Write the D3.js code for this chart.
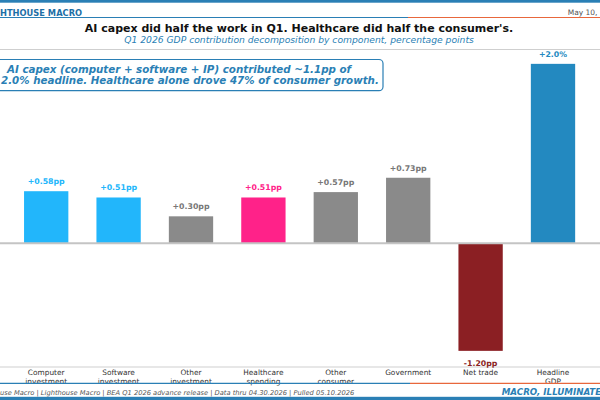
<!DOCTYPE html>
<html>
<head>
<meta charset="utf-8">
<script src="https://cdn.jsdelivr.net/npm/d3@7"></script>
<style>
  body { margin: 0; background: #fff; }
  svg { display: block; font-family: "DejaVu Sans", sans-serif; }
</style>
</head>
<body>
<svg id="chart"></svg>
<script>
  // values
  const categories = [
    "Computer\ninvestment",
    "Software\ninvestment",
    "Other\ninvestment",
    "Healthcare\nspending",
    "Other\nconsumer",
    "Government",
    "Net trade",
    "Headline\nGDP",
  ];
  const contributions = [0.58, 0.51, 0.3, 0.51, 0.57, 0.73, -1.2, 2.0];
  const valueLabels = ["+0.58pp", "+0.51pp", "+0.30pp", "+0.51pp", "+0.57pp", "+0.73pp", "-1.20pp", "+2.0%"];
  const groups = ["ai", "ai", "other", "health", "other", "other", "trade", "headline"];
  const yDomain = [-1.38, 2.16];

  const W = 600;
  const H = 400;
  const blue = "#2a7fb5";
  const orange = "#e8673c";

  const barColor = d3
    .scaleOrdinal()
    .domain(["ai", "other", "health", "trade", "headline"])
    .range(["#22b6fb", "#8a8a8a", "#ff2289", "#8b1f23", "#2389c0"]);
  const labelColor = d3
    .scaleOrdinal()
    .domain(["ai", "other", "health", "trade", "headline"])
    .range(["#22b6fb", "#777777", "#ff2289", "#8b1f23", "#2389c0"]);

  const data = categories.map((c, i) => ({
    cat: c,
    value: contributions[i],
    label: valueLabels[i],
    group: groups[i],
  }));

  const svg = d3.select("#chart").attr("width", W).attr("height", H);

  const x = d3
    .scaleBand()
    .domain(categories)
    .range([10, 589.2])
    .paddingInner(0.388)
    .paddingOuter(0.194);
  const y = d3.scaleLinear().domain(yDomain).range([367, 49.5]);

  // header strip
  svg.append("rect").attr("x", 0).attr("y", 0).attr("width", W).attr("height", 2.7).attr("fill", blue);
  svg.append("line").attr("x1", 0).attr("x2", 408).attr("y1", 17.5).attr("y2", 17.5)
    .attr("stroke", blue).attr("stroke-width", 1.2);
  svg.append("line").attr("x1", 408).attr("x2", W).attr("y1", 17.5).attr("y2", 17.5)
    .attr("stroke", orange).attr("stroke-width", 1.2);
  svg.append("text").attr("x", 0).attr("y", 16.3)
    .attr("font-size", "8.3px").attr("font-weight", "bold").attr("fill", "#1d6fa6")
    .text("HTHOUSE MACRO");
  svg.append("text").attr("x", 567.7).attr("y", 15.4)
    .attr("font-size", "7.5px").attr("fill", "#555")
    .text("May 10, 2026");

  // titles
  svg.append("text").attr("x", 299).attr("y", 32).attr("text-anchor", "middle")
    .attr("font-size", "11px").attr("font-weight", "bold").attr("fill", "#111")
    .text("AI capex did half the work in Q1. Healthcare did half the consumer's.");
  svg.append("text").attr("x", 299).attr("y", 43.3).attr("text-anchor", "middle")
    .attr("font-size", "9.2px").attr("font-style", "italic").attr("fill", blue)
    .text("Q1 2026 GDP contribution decomposition by component, percentage points");

  // plot frame lines
  svg.append("line").attr("x1", 0).attr("x2", W).attr("y1", y.range()[1]).attr("y2", y.range()[1])
    .attr("stroke", "#cfcfcf").attr("stroke-width", 1);
  svg.append("line").attr("x1", 0).attr("x2", W).attr("y1", y.range()[0]).attr("y2", y.range()[0])
    .attr("stroke", "#cfcfcf").attr("stroke-width", 1);

  // bars
  svg.selectAll(".bar")
    .data(data)
    .enter()
    .append("rect")
    .attr("class", "bar")
    .attr("x", (d) => x(d.cat))
    .attr("width", x.bandwidth())
    .attr("y", (d) => y(Math.max(0, d.value)))
    .attr("height", (d) => Math.abs(y(d.value) - y(0)))
    .attr("fill", (d) => barColor(d.group));

  svg.append("line").attr("x1", 0).attr("x2", W).attr("y1", y(0)).attr("y2", y(0))
    .attr("stroke", "#c4c4c4").attr("stroke-width", 1.8);

  svg.selectAll(".val")
    .data(data)
    .enter()
    .append("text")
    .attr("class", "val")
    .attr("x", (d) => x(d.cat) + x.bandwidth() / 2)
    .attr("y", (d) => (d.value >= 0 ? y(d.value) - 7.2 : y(d.value) + 15))
    .attr("text-anchor", "middle")
    .attr("font-size", "7.8px")
    .attr("font-weight", "bold")
    .attr("fill", (d) => labelColor(d.group))
    .text((d) => d.label);

  // category labels
  const ticks = svg.selectAll(".cat")
    .data(data)
    .enter()
    .append("text")
    .attr("class", "cat")
    .attr("text-anchor", "middle")
    .attr("font-size", "7.4px")
    .attr("fill", "#333");
  ticks.selectAll("tspan")
    .data((d) => d.cat.split("\n").map((t) => ({ t, cx: x(d.cat) + x.bandwidth() / 2 })))
    .enter()
    .append("tspan")
    .attr("x", (d) => d.cx)
    .attr("y", (d, i) => 375.4 + i * 9)
    .text((d) => d.t);

  // annotation box
  svg.append("rect").attr("x", -10).attr("y", 59.5).attr("width", 393).attr("height", 31.2)
    .attr("rx", 4).attr("fill", "#fff").attr("stroke", blue).attr("stroke-width", 1.2);
  svg.append("text").attr("x", 7).attr("y", 73.3)
    .attr("font-size", "10.3px").attr("font-weight", "bold").attr("font-style", "italic").attr("fill", blue)
    .text("AI capex (computer + software + IP) contributed ~1.1pp of");
  svg.append("text").attr("x", 1).attr("y", 84)
    .attr("font-size", "10.3px").attr("font-weight", "bold").attr("font-style", "italic").attr("fill", blue)
    .text("2.0% headline. Healthcare alone drove 47% of consumer growth.");

  // footer
  svg.append("line").attr("x1", 0).attr("x2", 410).attr("y1", 383.3).attr("y2", 383.3)
    .attr("stroke", blue).attr("stroke-width", 1.2);
  svg.append("line").attr("x1", 410).attr("x2", W).attr("y1", 383.3).attr("y2", 383.3)
    .attr("stroke", orange).attr("stroke-width", 1.2);
  svg.append("text").attr("x", 0).attr("y", 394.7)
    .attr("font-size", "6.7px").attr("font-style", "italic").attr("fill", "#555")
    .text("use Macro | Lighthouse Macro | BEA Q1 2026 advance release | Data thru 04.30.2026 | Pulled 05.10.2026");
  svg.append("text").attr("x", 501.7).attr("y", 395.2)
    .attr("font-size", "8.7px").attr("font-weight", "bold").attr("font-style", "italic").attr("fill", blue)
    .text("MACRO, ILLUMINATED.");
  svg.append("rect").attr("x", 0).attr("y", 396.8).attr("width", W).attr("height", 3.2).attr("fill", blue);
</script>
</body>
</html>
